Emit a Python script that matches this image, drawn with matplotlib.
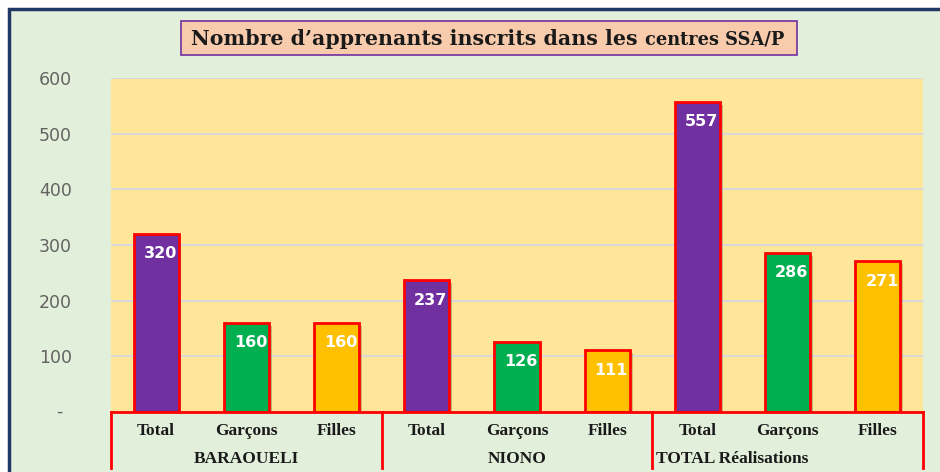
import numpy as np
from matplotlib import pyplot as plt
from matplotlib.patches import Rectangle
import matplotlib.patheffects as pe

# Data
groups = ["BARAOUELI", "NIONO", "TOTAL Réalisations"]
subcats = ["Total", "Garçons", "Filles"]
baraoueli = [320, 160, 160]
niono = [237, 126, 111]
total_real = [557, 286, 271]
title = "Nombre d\u2019apprenants inscrits dans les "
title_small = "centres SSA/P"
yticks = [0, 100, 200, 300, 400, 500, 600]
ytick_labels = ["", "100", "200", "300", "400", "500", "600"]

bar_colors = ["#7030a0", "#00b050", "#ffc000"]

W, H = 940, 472
fig = plt.figure(figsize=(W / 100, H / 100), dpi=100)
fig.patch.set_facecolor("white")

def fx(px):
    return px / W

def fy(py):
    return 1 - py / H

# outer frame
fig.patches.append(Rectangle((fx(9), fy(480)), fx(940), fy(9) - fy(480),
                             transform=fig.transFigure, facecolor="#e2efda",
                             edgecolor="#1f3864", linewidth=2.5, zorder=-5))

# title box
fig.patches.append(Rectangle((fx(181), fy(55)), fx(797 - 181), fy(21) - fy(55),
                             transform=fig.transFigure, facecolor="#f8cbad",
                             edgecolor="#7030a0", linewidth=1.2, zorder=1))
t1 = fig.text(fx(191), fy(39), title, fontsize=14.8, fontweight="bold",
              family="DejaVu Serif", ha="left", va="center", color="#1a1a1a")
fig.canvas.draw()
bb = t1.get_window_extent()
fig.text(bb.x1 / W, fy(40), title_small, fontsize=12.8, fontweight="bold",
         family="DejaVu Serif", ha="left", va="center", color="#1a1a1a")

ax = fig.add_axes([fx(111), fy(412), fx(923 - 111), fy(78) - fy(412)])
ax.set_facecolor("#ffe699")

values = baraoueli + niono + total_real
x = np.arange(len(values))
colors = bar_colors * 3
bars = ax.bar(x, values, width=0.5, color=colors, edgecolor="#ff0000",
              linewidth=2, zorder=3)
for b in bars:
    b.set_path_effects([pe.SimplePatchShadow(offset=(2, -2), alpha=0.25), pe.Normal()])

for xi, v in zip(x, values):
    ax.text(xi + 0.045, v - 36, str(v), ha="center", va="center", color="white",
            fontsize=11.5, fontweight="bold", zorder=4)

ax.set_xlim(-0.5, len(values) - 0.5)
ax.set_ylim(0, 600)
ax.set_yticks(yticks)
ax.set_yticklabels(ytick_labels)
ax.tick_params(axis="y", length=0, pad=28, labelsize=12.5, labelcolor="#636363")
# zero label shown as a dash (accounting format)
fig.text(fx(59), fy(412), "-", ha="center", va="center", fontsize=12.5, color="#636363")
ax.set_xticks([])
ax.grid(axis="y", color="#d9d9d9", linewidth=1.5, zorder=0)
for s in ["top", "right", "left"]:
    ax.spines[s].set_visible(False)
ax.spines["bottom"].set_color("#ff0000")
ax.spines["bottom"].set_linewidth(2)
ax.spines["bottom"].set_zorder(5)

# category axis labels and group separators
trans = ax.get_xaxis_transform()
for xi in x:
    ax.text(xi, -0.058, subcats[xi % 3], transform=trans, ha="center", va="center",
            fontsize=12.5, fontweight="bold", family="Liberation Serif", color="#1a1a1a")
for gi, g in enumerate(groups):
    if gi == 2:
        ax.text(gi * 3 - 0.46, -0.14, g, transform=trans, ha="left", va="center",
                fontsize=12.5, fontweight="bold", family="Liberation Serif", color="#1a1a1a")
    else:
        ax.text(gi * 3 + 1, -0.14, g, transform=trans, ha="center", va="center",
                fontsize=12.5, fontweight="bold", family="Liberation Serif", color="#1a1a1a")
for sep in [-0.5, 2.5, 5.5, 8.5]:
    ax.plot([sep, sep], [0, -0.168], transform=trans, color="#ff0000",
            linewidth=2, clip_on=False, zorder=5)

fig.savefig("out.png", dpi=100)
